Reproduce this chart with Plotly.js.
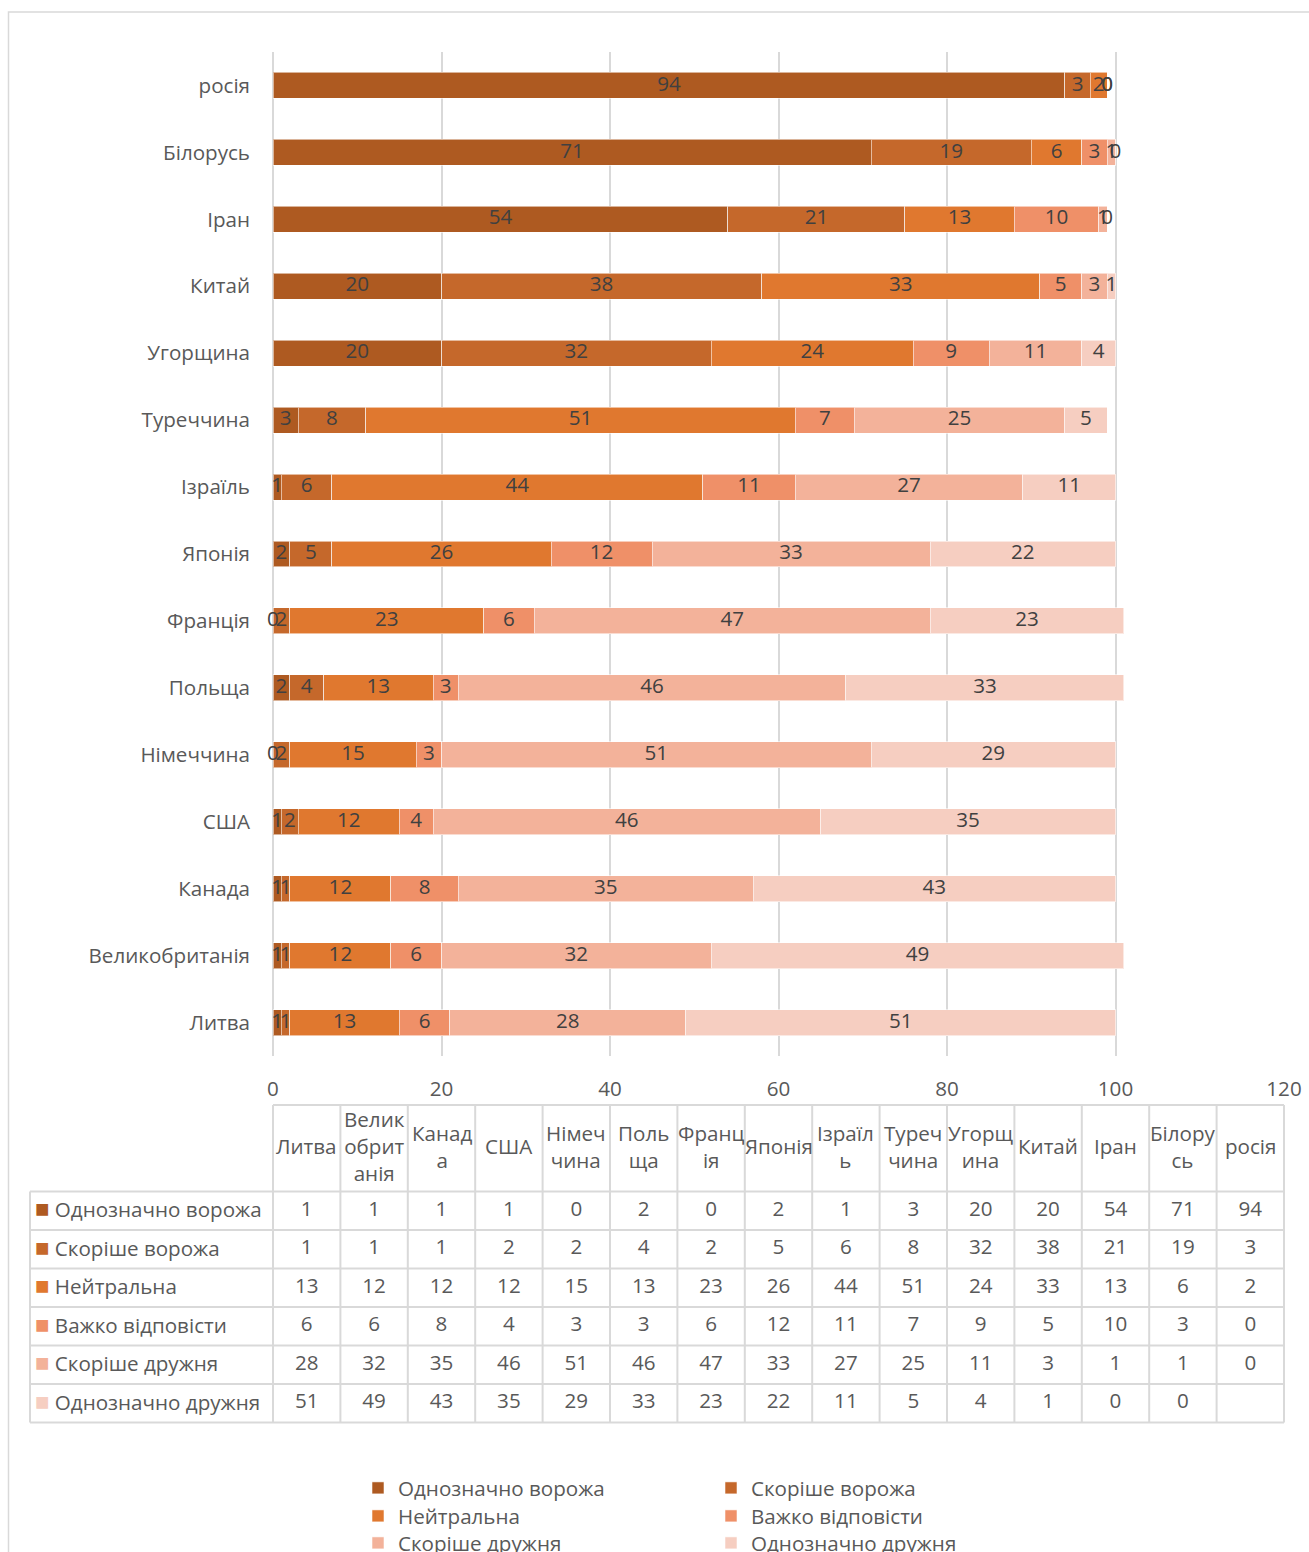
<!DOCTYPE html>
<html><head><meta charset="utf-8">
<script src="https://cdn.plot.ly/plotly-3.0.1.min.js"></script>
<style>html,body{margin:0;padding:0;background:#fff}#chart{width:1309px;height:1552px}</style>
</head><body><div id="chart"></div>
<script>
// ---- data ----
const countries = ['Литва','Великобританія','Канада','США','Німеччина','Польща','Франція','Японія','Ізраїль','Туреччина','Угорщина','Китай','Іран','Білорусь','росія'];
const headerLabels = ['Литва','Велик<br>обрит<br>анія','Канад<br>а','США','Німеч<br>чина','Поль<br>ща','Франц<br>ія','Японія','Ізраїл<br>ь','Туреч<br>чина','Угорщ<br>ина','Китай','Іран','Білору<br>сь','росія'];
const seriesNames = ['Однозначно ворожа','Скоріше ворожа','Нейтральна','Важко відповісти','Скоріше дружня','Однозначно дружня'];
const definitelyHostile  = [1,1,1,1,0,2,0,2,1,3,20,20,54,71,94];
const ratherHostile      = [1,1,1,2,2,4,2,5,6,8,32,38,21,19,3];
const neutral            = [13,12,12,12,15,13,23,26,44,51,24,33,13,6,2];
const hardToSay          = [6,6,8,4,3,3,6,12,11,7,9,5,10,3,0];
const ratherFriendly     = [28,32,35,46,51,46,47,33,27,25,11,3,1,1,0];
const definitelyFriendly = [51,49,43,35,29,33,23,22,11,5,4,1,0,0,null];
const xTicks = [0,20,40,60,80,100,120];
const colors = ['#AE5A21','#C5682B','#E0782F','#EF9068','#F3B29A','#F6CEC1'];

// ---- layout helpers ----
const W = 1309, H = 1552;
const px = v => v / W;
const py = v => 1 - v / H;
const FONT = '"Open Sans", "Noto Sans", sans-serif';
const FS = 20.6;
const TXT = '#595959';
const GRID = '#D9D9D9';

// table geometry (pixels)
const tLeft = 30, firstColW = 243, colW = 67.4, tTop = 1105, headH = 86.5, rowH = 38.5;
const colStart = tLeft + firstColW;
const colEnd = colStart + colW * countries.length;
const bodyTop = tTop + headH;
const bodyBottom = bodyTop + rowH * seriesNames.length;

const series = [definitelyHostile, ratherHostile, neutral, hardToSay, ratherFriendly, definitelyFriendly];
const legendIds = ['legend','legend','legend2','legend2','legend3','legend3'];

const traces = [];
series.forEach((vals, i) => {
  traces.push({
    type: 'bar', orientation: 'h', name: seriesNames[i],
    x: vals, y: countries, legend: legendIds[i],
    marker: {color: colors[i], line: {color: 'rgba(255,255,255,0.55)', width: 1}},
    hoverinfo: 'x+name'
  });
});
// data labels, centred on each stacked segment
const base = countries.map(() => 0);
series.forEach((vals, i) => {
  const xs = [], ts = [];
  vals.forEach((v, k) => {
    if (v == null) { xs.push(null); ts.push(''); }
    else { xs.push(base[k] + v / 2); ts.push(String(v)); base[k] += v; }
  });
  traces.push({
    type: 'scatter', mode: 'text', x: xs, y: countries, text: ts,
    textfont: {family: FONT, size: FS, color: '#404040'},
    showlegend: false, hoverinfo: 'skip', cliponaxis: false
  });
});
// data table values (on table axes x2 / y2)
series.forEach((vals, i) => {
  traces.push({
    type: 'scatter', mode: 'text', xaxis: 'x2', yaxis: 'y2',
    x: countries, y: countries.map(() => seriesNames[i]),
    text: vals.map(v => v == null ? '' : String(v)),
    textfont: {family: FONT, size: FS, color: TXT},
    showlegend: false, hoverinfo: 'skip', cliponaxis: false
  });
});

// table borders
const shapes = [];
const hline = (x0, x1, y) => ({type: 'line', xref: 'paper', yref: 'paper', x0: px(x0), x1: px(x1), y0: py(y), y1: py(y), line: {color: GRID, width: 2}});
const vline = (x, y0, y1) => ({type: 'line', xref: 'paper', yref: 'paper', x0: px(x), x1: px(x), y0: py(y0), y1: py(y1), line: {color: GRID, width: 2}});
shapes.push(hline(colStart, colEnd, tTop));
for (let j = 0; j <= seriesNames.length; j++) shapes.push(hline(tLeft, colEnd, bodyTop + j * rowH));
shapes.push(vline(tLeft, bodyTop, bodyBottom));
for (let k = 0; k <= countries.length; k++) shapes.push(vline(colStart + k * colW, tTop, bodyBottom));
// outer chart frame
shapes.push({type: 'rect', xref: 'paper', yref: 'paper', x0: px(8.5), x1: 1.02, y0: -0.02, y1: py(12),
  line: {color: GRID, width: 1.5}, fillcolor: 'rgba(0,0,0,0)', layer: 'below'});

// table header labels and row labels
const annotations = headerLabels.map((lab, k) => ({
  xref: 'x2', yref: 'paper', x: countries[k], y: py(tTop + headH / 2 - 2),
  xanchor: 'center', yanchor: 'middle', align: 'center', showarrow: false,
  text: lab, font: {family: FONT, size: FS, color: TXT}
})).concat(seriesNames.map((n, i) => ({
  xref: 'paper', yref: 'y2', x: px(tLeft + 3), y: n, yshift: 3,
  xanchor: 'left', yanchor: 'middle', align: 'left', showarrow: false,
  text: `<span style="color:${colors[i]};font-size:24px">■</span> ${n}`,
  font: {family: FONT, size: FS, color: TXT}
})));

const legendBase = {orientation: 'h', xanchor: 'left', yanchor: 'middle', entrywidth: 308,
  font: {family: FONT, size: FS, color: TXT}, bgcolor: 'rgba(0,0,0,0)', traceorder: 'normal'};

const hidden = {showgrid: false, zeroline: false, showline: false, showticklabels: false, ticks: '', fixedrange: true};

const layout = {
  width: W, height: H,
  margin: {l: 0, r: 0, t: 0, b: 0, autoexpand: false},
  paper_bgcolor: 'white', plot_bgcolor: 'white',
  font: {family: FONT, size: FS, color: TXT},
  barmode: 'stack', bargap: 0.612,
  xaxis: {
    domain: [px(273), px(1284)], range: [0, 120], tickvals: xTicks,
    showgrid: true, gridcolor: GRID, gridwidth: 1.5,
    zeroline: true, zerolinecolor: GRID, zerolinewidth: 1.5,
    showline: false, ticks: '', ticklabelstandoff: 18,
    tickfont: {family: FONT, size: FS, color: TXT}, fixedrange: true
  },
  yaxis: {
    domain: [py(1056), py(52)], type: 'category', categoryarray: countries, categoryorder: 'array',
    range: [-0.5, countries.length - 0.5],
    showgrid: false, zeroline: false, showline: false, ticks: '', ticklabelstandoff: 22,
    tickfont: {family: FONT, size: FS, color: TXT}, fixedrange: true
  },
  xaxis2: Object.assign({}, hidden, {
    domain: [px(colStart), px(colEnd)], anchor: 'y2', type: 'category',
    categoryarray: countries, categoryorder: 'array', range: [-0.5, countries.length - 0.5]
  }),
  yaxis2: Object.assign({}, hidden, {
    domain: [py(bodyBottom), py(bodyTop)], anchor: 'x2', type: 'category',
    categoryarray: seriesNames, categoryorder: 'array', range: [seriesNames.length - 0.5, -0.5]
  }),
  legend:  Object.assign({}, legendBase, {x: px(358), y: py(1488)}),
  legend2: Object.assign({}, legendBase, {x: px(358), y: py(1516)}),
  legend3: Object.assign({}, legendBase, {x: px(358), y: py(1543)}),
  annotations: annotations,
  shapes: shapes,
  showlegend: true
};

Plotly.newPlot('chart', traces, layout, {displayModeBar: false});
</script>
</body></html>
